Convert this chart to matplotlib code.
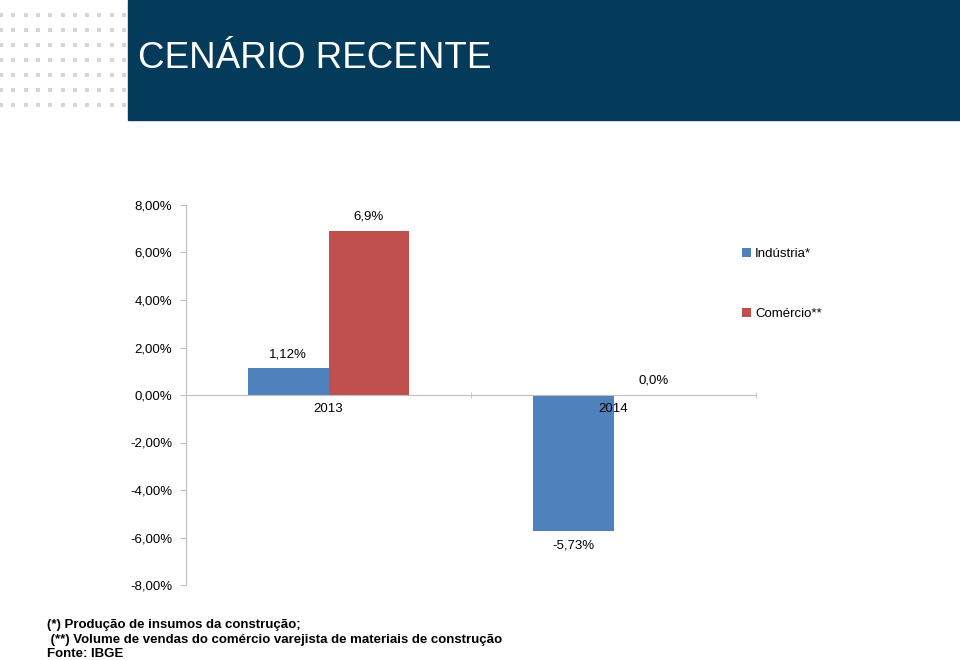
import numpy as np
import matplotlib
matplotlib.use('Agg')
import matplotlib.pyplot as plt
from matplotlib.patches import Rectangle

plt.rcParams['font.family'] = ['Liberation Sans', 'DejaVu Sans']

# data
anos = ['2013', '2014']
industria = [1.12, -5.73]
comercio = [6.9, 0.0]
rot_industria = ['1,12%', '-5,73%']
rot_comercio = ['6,9%', '0,0%']
yticks = [-8, -6, -4, -2, 0, 2, 4, 6, 8]

azul = '#4F81BD'
vermelho = '#C0504D'

fig = plt.figure(figsize=(9.6, 6.6), dpi=100)

# header band
fig.patches.append(Rectangle((128 / 960, 1 - 120 / 660), 1 - 128 / 960, 120 / 660,
                             transform=fig.transFigure, color='#043A5A', zorder=0))
fig.text(138 / 960, 1 - 59 / 660, 'CENÁRIO RECENTE', color='white', fontsize=26.5,
         va='center', ha='left')

# dotted pattern at the left of the header
xs = np.arange(1, 128, 12.3)
ys = np.arange(15, 110, 15)
gx, gy = np.meshgrid(xs, ys)
dots = fig.add_axes([0, 0, 1, 1], zorder=1)
dots.set_xlim(0, 960)
dots.set_ylim(660, 0)
dots.axis('off')
dots.scatter(gx.ravel(), gy.ravel(), s=5, marker='s', color='#d6d6d6', linewidths=0)

ax = fig.add_axes([186 / 960, 1 - 585 / 660, (756 - 186) / 960, (585 - 205) / 660], zorder=2)
x = np.arange(len(anos))
w = 0.284
b1 = ax.bar(x - w / 2, industria, w, color=azul, label='Indústria*')
b2 = ax.bar(x + w / 2, comercio, w, color=vermelho, label='Comércio**')

for xi, v, t in zip(x - w / 2, industria, rot_industria):
    ax.text(xi, v + (0.35 if v >= 0 else -0.35), t, ha='center',
            va='bottom' if v >= 0 else 'top', fontsize=9.5)
for xi, v, t in zip(x + w / 2, comercio, rot_comercio):
    ax.text(xi, v + 0.35, t, ha='center', va='bottom', fontsize=9.5)

ax.set_xlim(-0.5, 1.5)
ax.set_ylim(-8, 8)
ax.set_yticks(yticks)
ax.set_yticklabels(['%d,00%%' % v for v in yticks], fontsize=9.5)
ax.tick_params(axis='y', length=4, color='#bfbfbf', pad=6)

ax.spines['bottom'].set_position(('data', 0))
ax.spines['top'].set_visible(False)
ax.spines['right'].set_visible(False)
ax.spines['left'].set_color('#bfbfbf')
ax.spines['bottom'].set_color('#bfbfbf')
ax.set_xticks(x)
ax.set_xticklabels(anos, fontsize=9.5)
ax.tick_params(axis='x', length=0, pad=6)
ax.set_xticks([0.5, 1.5], minor=True)
ax.tick_params(axis='x', which='minor', length=4, direction='inout', color='#bfbfbf')

fig.legend(handles=[b1, b2], loc='upper left', bbox_to_anchor=(730 / 960, 1 - 236 / 660),
           frameon=False, fontsize=9.5, handlelength=0.7, handleheight=0.7,
           handletextpad=0.3, labelspacing=3.6)

fig.text(47 / 960, 1 - 625 / 660, '(*) Produção de insumos da construção;', fontsize=9.5,
         fontweight='bold', va='center')
fig.text(47 / 960, 1 - 640 / 660, ' (**) Volume de vendas do comércio varejista de materiais de construção',
         fontsize=9.5, fontweight='bold', va='center')
fig.text(47 / 960, 1 - 654 / 660, 'Fonte: IBGE', fontsize=9.5, fontweight='bold', va='center')

fig.savefig('out.png', dpi=100)
